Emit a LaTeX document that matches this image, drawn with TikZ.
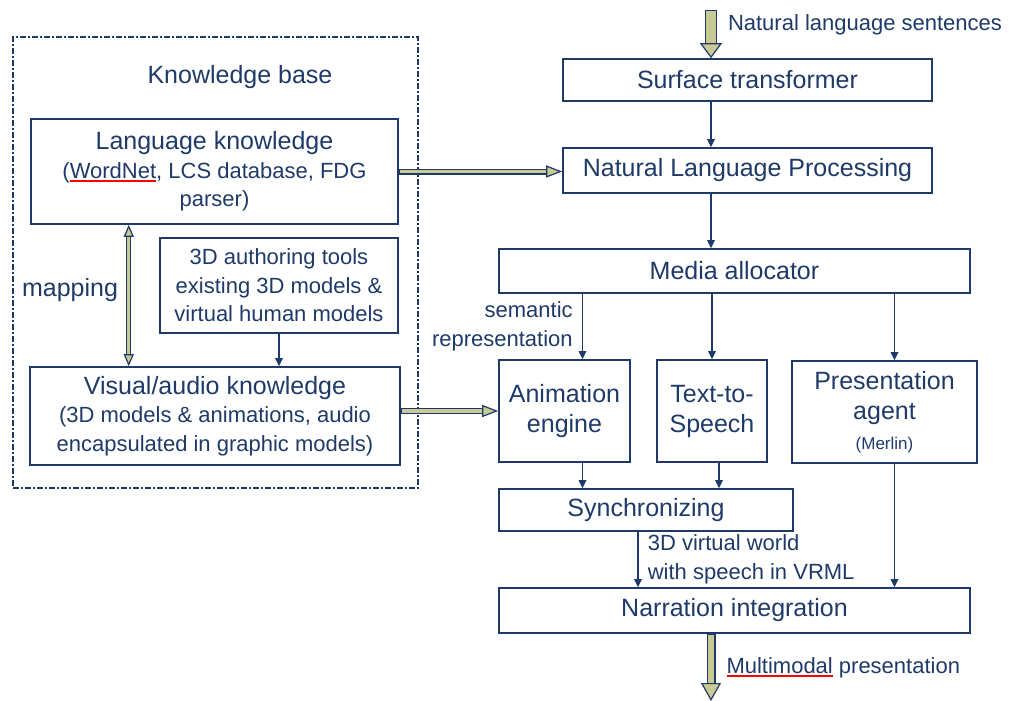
\documentclass[tikz,border=0pt]{standalone}
\usepackage{fontspec}
\setmainfont{Liberation Sans}
\usetikzlibrary{arrows.meta}
\definecolor{navy}{RGB}{31,58,104}
\definecolor{khaki}{RGB}{201,201,150}
\newcommand{\bigtxt}{\fontsize{25}{30}\selectfont}
\newcommand{\smalltxt}{\fontsize{22}{28.5}\selectfont}
\newcommand{\tinytxt}{\fontsize{17}{20}\selectfont}
\newlength{\spellwd}
\newcommand{\spellul}[1]{\settowidth{\spellwd}{#1}\rlap{\textcolor{red}{\rule[-3.5pt]{\spellwd}{1.5pt}}}#1}
\tikzset{
	box/.style = {
		shape=rectangle,
		draw=navy,
		line width=1.6pt,
		align=center,
		text=navy,
		inner sep=0pt,
		font=\bigtxt
	},
	kbase/.style = {
		shape=rectangle,
		draw=navy,
		line width=1.4pt,
		dash pattern=on 6pt off 2pt on 2pt off 2pt,
		inner sep=0pt
	},
	note/.style = {
		text=navy,
		inner sep=0pt,
		font=\smalltxt
	},
	link/.style = {
		draw=navy,
		line width=1.7pt,
		-{Triangle[length=8pt,width=8pt,line width=0pt]}
	},
	fat/.style n args = {3}{
		draw=navy,
		line width=#1,
		-{Triangle[length=#3,width=#2,line width=1.2pt,fill=khaki]},
		postaction={draw=khaki, line width=#1-2.4pt, arrows=-, shorten >=#3, shorten <=1.2pt}
	},
	fatboth/.style n args = {3}{
		draw=navy,
		line width=#1,
		{Triangle[length=#3,width=#2,line width=1.2pt,fill=khaki]}-{Triangle[length=#3,width=#2,line width=1.2pt,fill=khaki]},
		postaction={draw=khaki, line width=#1-2.4pt, arrows=-, shorten >=#3, shorten <=#3}
	}
}

\begin{document}
\begin{tikzpicture}[x=1pt, y=-1pt]
	\useasboundingbox (0,0) rectangle (1010,701);

	\node[kbase, minimum width=405pt, minimum height=451pt] (kb) at (215.5,262.5) {};
	\node[box, draw=none] (kbtitle) at (240,77) {Knowledge base};
	\node[box, font=\smalltxt, minimum width=367pt, minimum height=105pt] (langk) at (214.5,171.5) {
		{\bigtxt Language knowledge}\\
		(\spellul{WordNet}, LCS database, FDG\\
		parser)
	};
	\node[box, font=\smalltxt, minimum width=238pt, minimum height=95pt] (author) at (279,285.5) {
		3D authoring tools\\
		existing 3D models \&\\
		virtual human models
	};
	\node[box, font=\smalltxt, minimum width=370pt, minimum height=98pt] (visual) at (215,416) {
		{\bigtxt Visual/audio knowledge}\\
		(3D models \& animations, audio\\
		encapsulated in graphic models)
	};
	\node[box, draw=none] (mapping) at (70,290) {mapping};

	\node[box, minimum width=369pt, minimum height=42pt] (surface) at (747.5,80) {Surface transformer};
	\node[box, minimum width=369pt, minimum height=45pt] (nlp) at (747.5,170.5) {Natural Language Processing};
	\node[box, minimum width=471pt, minimum height=44pt] (media) at (734.5,271) {Media allocator};
	\node[box, minimum width=131pt, minimum height=102pt] (anim) at (564.5,411) {
		Animation\\
		engine
	};
	\node[box, minimum width=110pt, minimum height=102pt] (tts) at (712,411) {
		Text-to-\\
		Speech
	};
	\node[box, minimum width=185pt, minimum height=102pt] (pres) at (884.5,412) {
		Presentation\\
		agent\\
		{\tinytxt (Merlin)}
	};
	\node[box, minimum width=294pt, minimum height=42pt] (sync) at (646,510) {Synchronizing};
	\node[box, minimum width=471pt, minimum height=45pt] (narr) at (734.5,610.5) {Narration integration};

	\coordinate (input) at (711,10);
	\coordinate (output) at (711,701);

	\draw[fat={12pt}{22pt}{15pt}] (input) -- (input |- surface.north)
		node[note, pos=0.31, anchor=west, xshift=11pt] {Natural language sentences};
	\draw[link] (input |- surface.south) -- (input |- nlp.north);
	\draw[link] (input |- nlp.south) -- (input |- media.north);
	\draw[fat={6pt}{12pt}{16pt}] (langk.east) -- (langk.east -| nlp.west);
	\draw[fatboth={5pt}{10pt}{12pt}] ([xshift=10pt]mapping.east |- langk.south) -- ([xshift=10pt]mapping.east |- visual.north);
	\draw[link] (author.south) -- (author.south |- visual.north);
	\draw[fat={6pt}{12pt}{16pt}] (visual.east |- anim.west) -- (anim.west);

	\draw[link] ([xshift=18pt]anim.north |- media.south) -- ([xshift=18pt]anim.north)
		node[note, midway, anchor=east, xshift=-9pt, align=right] {semantic\\representation};
	\draw[link] (tts.north |- media.south) -- (tts.north);
	\draw[link] ([xshift=10pt]pres.north |- media.south) -- ([xshift=10pt]pres.north);
	\draw[link] ([xshift=18pt]anim.south) -- ([xshift=18pt]anim.south |- sync.north);
	\draw[link] ([xshift=7pt]tts.south) -- ([xshift=7pt]tts.south |- sync.north);
	\draw[link] ([xshift=-8pt]sync.south) -- ([xshift=-8pt]sync.south |- narr.north)
		node[note, midway, anchor=west, xshift=9pt, align=left] {3D virtual world\\with speech in VRML};
	\draw[link] ([xshift=10pt]pres.south) -- ([xshift=10pt]pres.south |- narr.north);
	\draw[fat={9pt}{20pt}{18pt}] (input |- narr.south) -- (output)
		node[note, midway, anchor=west, xshift=11pt] {\spellul{Multimodal} presentation};
\end{tikzpicture}
\end{document}
